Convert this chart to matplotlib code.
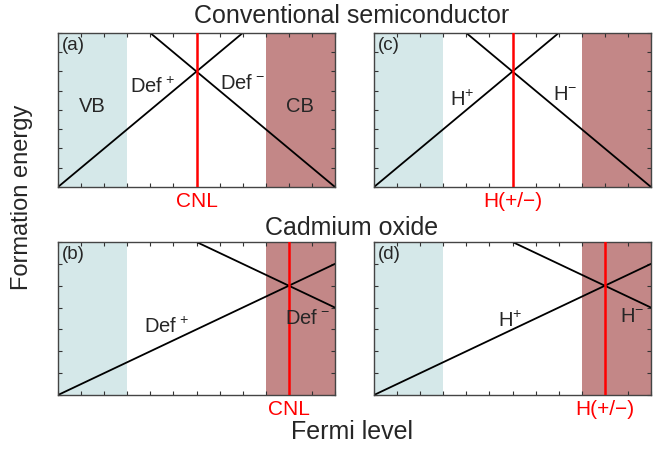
import matplotlib
matplotlib.use("Agg")
import matplotlib.pyplot as plt
from matplotlib.ticker import MultipleLocator

plt.rcParams['font.family'] = ['Liberation Sans', 'DejaVu Sans']
plt.rcParams['mathtext.fontset'] = 'custom'
plt.rcParams['mathtext.rm'] = 'Liberation Sans'
plt.rcParams['mathtext.it'] = 'Liberation Sans'
plt.rcParams['mathtext.default'] = 'regular'

# ---- data ----
fermi = [0, 12]
vb_range = [0, 3]
cb_range = [9, 12]
# conventional semiconductor
conv_plus = [0, 12]
conv_minus = [12, 0]
conv_cnl = 6
conv_ymax = 8
# cadmium oxide
cdo_plus = [0, 6]
cdo_minus = [10, 4]
cdo_cnl = 10
cdo_ymax = 7

panel_letters = ['(a)', '(b)', '(c)', '(d)']
plus_labels = [r'Def$^{\,+}$', r'Def$^{\,+}$', r'H$^{+}$', r'H$^{+}$']
minus_labels = [r'Def$^{\,-}$', r'Def$^{\,-}$', r'H$^{-}$', r'H$^{-}$']
pin_labels = ['CNL', 'CNL', 'H(+/−)', 'H(+/−)']

VB_COLOR = '#d5e8e9'
CB_COLOR = '#c38787'
TXT = '#262626'

fig = plt.figure(figsize=(6.58, 4.49), dpi=100)
W, H = 658, 449

def add_ax(l, t, r, b):
    return fig.add_axes([l / W, 1 - b / H, (r - l) / W, (b - t) / H])

ax_a = add_ax(58, 33, 335, 187)
ax_c = add_ax(374, 33, 651, 187)
ax_b = add_ax(58, 242, 335, 395)
ax_d = add_ax(374, 242, 651, 395)

configs = [
    (ax_a, conv_plus, conv_minus, conv_cnl, conv_ymax, 0),
    (ax_b, cdo_plus, cdo_minus, cdo_cnl, cdo_ymax, 1),
    (ax_c, conv_plus, conv_minus, conv_cnl, conv_ymax, 2),
    (ax_d, cdo_plus, cdo_minus, cdo_cnl, cdo_ymax, 3),
]

plus_pos = [(4.1, 5.2), (4.7, 3.1), (3.8, 4.5), (5.9, 3.4)]
minus_pos = [(8.0, 5.4), (10.8, 3.5), (8.3, 4.8), (11.2, 3.6)]

for ax, yp, ym, pin, ymax, i in configs:
    ax.axvspan(vb_range[0], vb_range[1], color=VB_COLOR, lw=0, zorder=0)
    ax.axvspan(cb_range[0], cb_range[1], color=CB_COLOR, lw=0, zorder=0)
    ax.plot(fermi, yp, color='black', lw=1.3, zorder=2)
    ax.plot(fermi, ym, color='black', lw=1.3, zorder=2)
    ax.axvline(pin, color='#ff0000', lw=1.8, zorder=3)
    ax.set_xlim(fermi[0], fermi[1])
    ax.set_ylim(0, ymax)
    ax.xaxis.set_major_locator(MultipleLocator(1))
    ax.yaxis.set_major_locator(MultipleLocator(1))
    ax.tick_params(which='both', direction='in', top=True, right=True,
                   length=3, width=0.8, labelbottom=False, labelleft=False,
                   color='#333333')
    for s in ax.spines.values():
        s.set_color('#444444')
        s.set_linewidth(1.0)
    ax.text(0.15, ymax - 0.2, panel_letters[i], ha='left', va='top',
            fontsize=13.5, color=TXT)
    ax.text(plus_pos[i][0], plus_pos[i][1], plus_labels[i], ha='center',
            va='center', fontsize=14.5, color=TXT)
    ax.text(minus_pos[i][0], minus_pos[i][1], minus_labels[i], ha='center',
            va='center', fontsize=14.5, color=TXT)
    ax.text(pin, -0.25, pin_labels[i], ha='center', va='top', fontsize=15,
            color='#ff0000', transform=ax.transData, clip_on=False)

ax_a.text(1.5, 4.2, 'VB', ha='center', va='center', fontsize=14.5, color=TXT)
ax_a.text(10.5, 4.2, 'CB', ha='center', va='center', fontsize=14.5, color=TXT)

fig.text(352 / W, 1 - 16 / H, 'Conventional semiconductor', ha='center',
         va='center', fontsize=18, color=TXT)
fig.text(352 / W, 1 - 228 / H, 'Cadmium oxide', ha='center', va='center',
         fontsize=18, color=TXT)
fig.text(352 / W, 1 - 432 / H, 'Fermi level', ha='center', va='center',
         fontsize=18, color=TXT)
fig.text(22 / W, 1 - 197 / H, 'Formation energy', ha='center', va='center',
         rotation=90, fontsize=17, color=TXT)

fig.savefig('out.png', dpi=100)
